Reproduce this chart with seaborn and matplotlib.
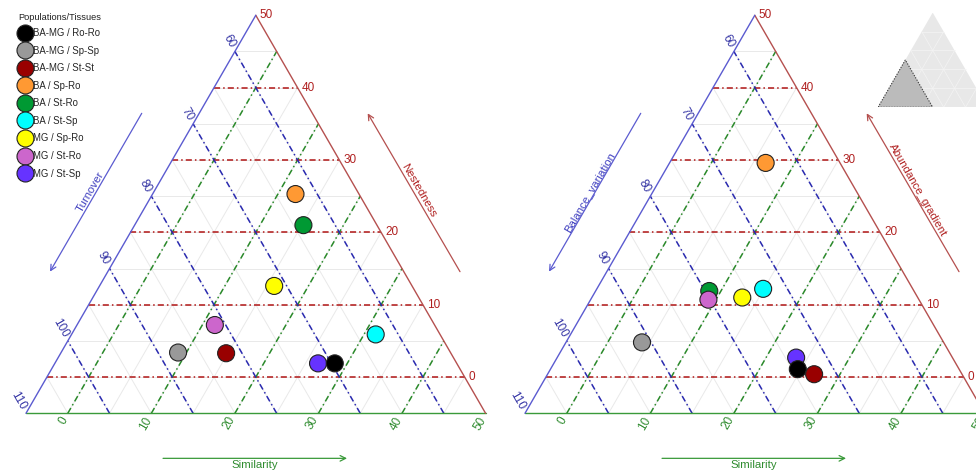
import numpy as np
import pandas as pd
import matplotlib
matplotlib.use("Agg")
import matplotlib.pyplot as plt
import seaborn as sns
from matplotlib.patches import Polygon, FancyArrowPatch

sns.set_theme(style="white")
plt.rcParams['font.family'] = ['Liberation Sans', 'DejaVu Sans']

# ---------------- data ----------------
groups = ["BA-MG / Ro-Ro", "BA-MG / Sp-Sp", "BA-MG / St-St", "BA / Sp-Ro", "BA / St-Ro",
          "BA / St-Sp", "MG / Sp-Ro", "MG / St-Ro", "MG / St-Sp"]
group_colors = ["#000000", "#999999", "#990000", "#ff9933", "#009933",
                "#00ffff", "#ffff00", "#cc66cc", "#6633ff"]

# left panel: Similarity / Nestedness (Turnover = 100 - the two)
left_similarity = [28.5, 9.0, 14.8, 12.1, 15.2, 31.4, 15.9, 11.5, 26.5]
left_nestedness = [1.9, 3.4, 3.3, 25.3, 21.0, 5.9, 12.6, 7.2, 1.9]
# right panel: Similarity / Abundance gradient (Balance variation = 100 - the two)
right_similarity = [24.6, 4.1, 26.9, 6.5, 8.6, 14.9, 13.0, 9.1, 23.6]
right_abundance = [1.1, 4.8, 0.4, 29.6, 11.9, 12.2, 11.0, 10.7, 2.7]

bottom_ticks = [0, 10, 20, 30, 40, 50]
right_ticks = [0, 10, 20, 30, 40, 50]
left_ticks = [60, 70, 80, 90, 100, 110]

# order in which the points are drawn (later on top)
draw_order = ["MG / St-Sp", "BA-MG / Ro-Ro", "BA-MG / Sp-Sp", "BA-MG / St-St", "BA / Sp-Ro",
              "BA / St-Ro", "BA / St-Sp", "MG / Sp-Ro", "MG / St-Ro"]

LO, HI = -5.0, 50.0          # visible range of bottom and right components
TOTAL = 100.0
TMIN = TOTAL - HI - LO       # 55, minimum of left component
S3 = np.sqrt(3) / 2

PX = 8.356                   # pixels per ternary unit
W_AX = 488

C_RED_E, C_BLUE_E, C_GREEN_E = "#b5504f", "#5b5bd0", "#3a9a3a"
C_RED_D, C_BLUE_D, C_GREEN_D = "#b01515", "#2a2ab0", "#2a8a2a"
C_RED_T, C_BLUE_T, C_GREEN_T = "#b02020", "#3535a5", "#2e8b2e"
DASH = (0, (4, 2, 1, 2))


def txy(sim, nest):
    sim = np.asarray(sim, float)
    nest = np.asarray(nest, float)
    return (sim - LO) + (nest - LO) / 2, (nest - LO) * S3


def seg(ax, p0, p1, **kw):
    x0, y0 = txy(*p0)
    x1, y1 = txy(*p1)
    ax.plot([x0, x1], [y0, y1], **kw)


fig = plt.figure(figsize=(9.76, 4.71), dpi=100)


def panel(x0px, sims, nests, left_title, right_title, legend):
    ax = fig.add_axes([x0px / 976, 0, W_AX / 976, 1])
    ax.set_xlim(-26 / PX, (W_AX - 26) / PX)
    ax.set_ylim(-57.7 / PX, (471 - 57.7) / PX)
    ax.axis("off")

    # fine grid every 5
    for v in np.arange(LO + 5, HI, 5):
        gk = dict(color="#e9e9e9", lw=0.7, zorder=1)
        seg(ax, (LO, v), (TOTAL - TMIN - v, v), **gk)
        seg(ax, (v, LO), (v, TOTAL - TMIN - v), **gk)
        seg(ax, (v, LO), (LO, v), **gk)

    # major dash-dot lines every 10
    for v in [0, 10, 20, 30, 40]:
        seg(ax, (LO, v), (TOTAL - TMIN - v, v), color=C_RED_D, lw=1.1, ls=DASH, zorder=2)
        seg(ax, (v, LO), (v, TOTAL - TMIN - v), color=C_GREEN_D, lw=1.1, ls=DASH, zorder=2)
    for t in [60, 70, 80, 90, 100]:
        s = TOTAL - t - LO
        seg(ax, (s, LO), (LO, s), color=C_BLUE_D, lw=1.1, ls=DASH, zorder=2)

    # edges
    seg(ax, (LO, LO), (HI, LO), color=C_GREEN_E, lw=1.0, zorder=3)
    seg(ax, (HI, LO), (LO, HI), color=C_RED_E, lw=1.0, zorder=3)
    seg(ax, (LO, LO), (LO, HI), color=C_BLUE_E, lw=1.0, zorder=3)

    # tick labels
    fs_t = 8.5
    for v in bottom_ticks:
        x, y = txy(v, LO)
        ax.annotate(str(v), (x, y), xytext=(-1.8, -3.1), textcoords="offset points",
                    rotation=60, rotation_mode="anchor", ha="right", va="center",
                    fontsize=fs_t, color=C_GREEN_T)
    for v in right_ticks:
        x, y = txy(TOTAL - TMIN - v, v)
        ax.annotate(str(v), (x, y), xytext=(2.8, 0), textcoords="offset points",
                    ha="left", va="center", fontsize=fs_t, color=C_RED_T)
    for t in left_ticks:
        x, y = txy(LO, TOTAL - t - LO)
        ax.annotate(str(t), (x, y), xytext=(-1.8, 3.1), textcoords="offset points",
                    rotation=-60, rotation_mode="anchor", ha="right", va="center",
                    fontsize=fs_t, color=C_BLUE_T)

    # axis title arrows
    def arrow(p0, p1, color):
        ax.add_patch(FancyArrowPatch(p0, p1, arrowstyle="->", mutation_scale=10,
                                     color=color, lw=0.9, shrinkA=0, shrinkB=0))
    arrow((13.85, 35.9), (2.87, 16.95), C_BLUE_E)
    arrow((51.94, 16.95), (40.89, 35.9), C_RED_E)
    arrow((16.4, -5.39), (38.42, -5.39), C_GREEN_E)
    ax.text(7.7, 26.5, left_title, rotation=60, ha="center", va="center",
            fontsize=8.2, color="#4040c0", rotation_mode="anchor")
    ax.text(46.95, 26.7, right_title, rotation=-60, ha="center", va="center",
            fontsize=8.2, color=C_RED_T, rotation_mode="anchor")
    ax.text(27.4, -5.55, "Similarity", ha="center", va="top", fontsize=8.2, color=C_GREEN_T)

    # points
    X, Y = txy(sims, nests)
    df = pd.DataFrame({"X": X, "Y": Y, "group": groups})
    df = df.set_index("group").loc[draw_order].reset_index()
    sns.scatterplot(data=df, x="X", y="Y", hue="group", hue_order=groups,
                    palette=dict(zip(groups, group_colors)), s=150,
                    edgecolor="#222222", linewidth=0.8, ax=ax, legend=legend, zorder=5)
    if legend:
        h, l = ax.get_legend_handles_labels()
        for hh in h:
            hh.set_markeredgecolor("#222222")
            hh.set_markeredgewidth(0.8)
        ax.legend(h, l, loc="upper left",
                  bbox_to_anchor=(17.0 / W_AX, 1 - 28.0 / 471), frameon=False,
                  fontsize=6.9, handletextpad=0.05,
                  handlelength=1.6, borderpad=0, borderaxespad=0,
                  labelspacing=0.79, markerscale=1.0)
        ax.text(18.0 / W_AX, 1 - 18.0 / 471, "Populations/Tissues", transform=ax.transAxes,
                ha="left", va="center", fontsize=6.7, color="#222222")
    else:
        if ax.get_legend() is not None:
            ax.get_legend().remove()
    ax.set_xlabel("")
    ax.set_ylabel("")
    return ax


panel(0, left_similarity, left_nestedness, "Turnover", "Nestedness", True)
panel(499, right_similarity, right_abundance, "Balance_variation", "Abundance_gradient", False)

# inset overview triangle
iax = fig.add_axes([878 / 976, (471 - 107.3) / 471, 109.4 / 976, 94.7 / 471])
iax.set_xlim(0, 1)
iax.set_ylim(0, S3)
iax.axis("off")
iax.add_patch(Polygon([(0, 0), (1, 0), (0.5, S3)], closed=True, facecolor="#e8e8e8",
                      edgecolor="none", zorder=1))
for f in np.arange(0.2, 1.0, 0.2):
    iax.plot([f / 2, 1 - f / 2], [f * S3, f * S3], color="#f4f4f4", lw=0.5, zorder=2)
    iax.plot([f, f / 2 + 0.5], [0, (1 - f) * S3], color="#f4f4f4", lw=0.5, zorder=2)
    iax.plot([f, f / 2], [0, f * S3], color="#f4f4f4", lw=0.5, zorder=2)
iax.add_patch(Polygon([(0, 0), (0.5, 0), (0.25, S3 / 2)], closed=True, facecolor="#bbbbbb",
                      edgecolor="#444444", lw=0.8, ls=(0, (1.2, 1.2)), zorder=3))

fig.savefig("out.png", dpi=100)
